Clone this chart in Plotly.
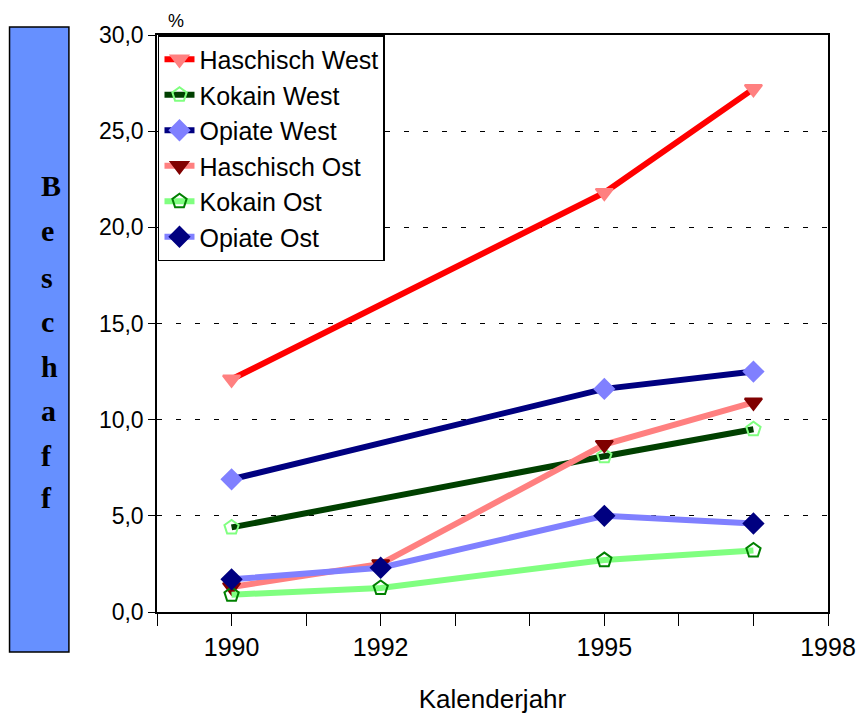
import plotly.graph_objects as go

# Data (West series have no 1992 value)
years_west = [1990, 1995, 1997]
years_ost = [1990, 1992, 1995, 1997]

haschisch_west = [12.1, 21.8, 27.2]
kokain_west = [4.4, 8.1, 9.5]
opiate_west = [6.9, 11.6, 12.5]
haschisch_ost = [1.3, 2.5, 8.7, 10.9]
kokain_ost = [0.9, 1.25, 2.7, 3.2]
opiate_ost = [1.7, 2.3, 5.0, 4.6]

x_tick_vals = list(range(1989, 1999))
x_tick_text = ["", "1990", "", "1992", "", "", "1995", "", "", "1998"]
y_tick_vals = [0, 5, 10, 15, 20, 25, 30]

side_label = "Beschaff"

# page offset (body margin) and plot area in page pixels
OFF = 8
W, H = 868 - OFF, 722 - OFF
L, R, T, B = 157 - OFF, 835 - OFF, 35 - OFF, 612 - OFF


def px_x(p):
    return (p - OFF - L) / (R - L)


def px_y(p):
    return (B - (p - OFF)) / (B - T)


series = [
    ("Haschisch West", years_west, haschisch_west, "#FF0000", "#FF8080", "triangle-down"),
    ("Kokain West", years_west, kokain_west, "#004000", "#80FF80", "pentagon-open"),
    ("Opiate West", years_west, opiate_west, "#000080", "#8080FF", "diamond"),
    ("Haschisch Ost", years_ost, haschisch_ost, "#FF8080", "#800000", "triangle-down"),
    ("Kokain Ost", years_ost, kokain_ost, "#80FF80", "#008000", "pentagon-open"),
    ("Opiate Ost", years_ost, opiate_ost, "#8080FF", "#000080", "diamond"),
]

fig = go.Figure()
for name, xs, ys, line_col, mark_col, symbol in series:
    fig.add_trace(go.Scatter(
        x=xs, y=ys, name=name, mode="lines+markers",
        line=dict(color=line_col, width=6),
        marker=dict(symbol=symbol, size=15, color=mark_col,
                    line=dict(color=mark_col, width=2)),
    ))

fig.update_layout(
    width=W, height=H,
    margin=dict(l=L, r=W - R, t=T, b=H - B),
    paper_bgcolor="white", plot_bgcolor="white",
    separators=",.",
    font=dict(family="Liberation Sans, Arial", color="black"),
    showlegend=True,
    legend=dict(
        x=px_x(158), y=1.0, xanchor="left", yanchor="top",
        bgcolor="white", bordercolor="black", borderwidth=1.5,
        font=dict(size=25), tracegroupgap=0,
    ),
)

fig.update_xaxes(
    range=[1989, 1998], tickvals=x_tick_vals, ticktext=x_tick_text,
    ticks="outside", ticklen=12, tickcolor="black", tickwidth=1,
    showline=True, linecolor="black", linewidth=1.5, mirror=True,
    showgrid=False, zeroline=False,
    tickfont=dict(size=25),
    title=dict(text="Kalenderjahr", standoff=30, font=dict(size=26)),
)
fig.update_yaxes(
    range=[0, 30], tickvals=y_tick_vals, tickformat=".1f",
    ticks="outside", ticklen=7, tickcolor="black",
    showline=True, linecolor="black", linewidth=1.5, mirror=True,
    showgrid=True, gridcolor="black", gridwidth=1, griddash="5px,14px",
    zeroline=False, tickfont=dict(size=23),
)

# "%" above the y axis
fig.add_annotation(x=px_x(166), y=px_y(21), xref="paper", yref="paper",
                   text="%", showarrow=False, font=dict(size=18), yanchor="middle")

# blue side box with vertical label
fig.add_shape(type="rect", xref="paper", yref="paper",
              x0=px_x(8), x1=px_x(68), y0=px_y(652), y1=px_y(27),
              fillcolor="#6690FF", line=dict(color="black", width=1.5))
letter_y = [185, 230, 277, 321, 366, 410, 455, 497]
for ch, py in zip(side_label, letter_y):
    fig.add_annotation(x=px_x(38), y=px_y(py), xref="paper", yref="paper",
                       text="<b>%s</b>" % ch, showarrow=False, yanchor="middle",
                       font=dict(size=30, family="Liberation Serif, Times New Roman"))

fig.write_html("out.html")
